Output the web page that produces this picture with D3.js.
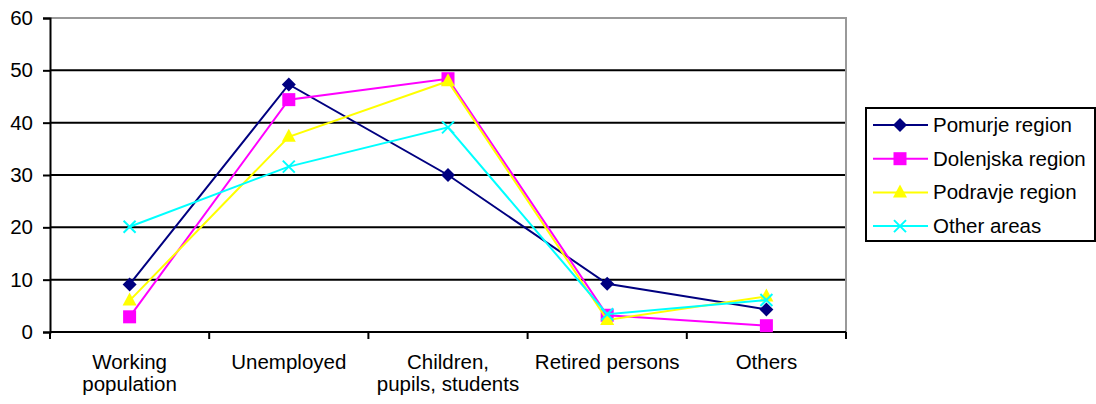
<!DOCTYPE html>
<meta charset="utf-8">
<script src="https://d3js.org/d3.v7.min.js"></script>
<style>
  body { margin: 0; background: #fff; }
  text { font-family: Arial, "Liberation Sans", sans-serif; }
</style>
<div id="chart"></div>
<script>
// categories and values
var categories = [["Working", "population"], ["Unemployed"], ["Children,", "pupils, students"], ["Retired persons"], ["Others"]];
var seriesNames = ["Pomurje region", "Dolenjska region", "Podravje region", "Other areas"];
var pomurje   = [9.1, 47.3, 30.0, 9.2, 4.3];
var dolenjska = [2.9, 44.4, 48.4, 3.2, 1.2];
var podravje  = [6.0, 37.3, 47.9, 2.3, 6.8];
var otherAreas = [20.1, 31.6, 39.1, 3.4, 6.1];
var yTicks = [0, 10, 20, 30, 40, 50, 60];

var colors = ["#000080", "#ff00ff", "#ffff00", "#00ffff"];
var symbols = ["diamond", "square", "triangle", "cross"];
var allSeries = [pomurje, dolenjska, podravje, otherAreas];
var fontSize = "20.5px";

var W = 1096, H = 404;
var margin = {top: 18, left: 50};
var width = 846 - margin.left, height = 332 - margin.top;

var svg = d3.select("#chart").append("svg")
    .attr("width", W).attr("height", H);
var g = svg.append("g")
    .attr("transform", "translate(" + margin.left + "," + margin.top + ")");

var x = d3.scaleBand().domain(d3.range(categories.length)).range([0, width]);
var y = d3.scaleLinear().domain([0, 60]).range([height, 0]);

// gridlines
g.selectAll(".grid").data(yTicks.filter(d => d > 0 && d < 60)).enter()
  .append("line")
    .attr("x1", 0).attr("x2", width)
    .attr("y1", d => y(d)).attr("y2", d => y(d))
    .attr("stroke", "#000").attr("stroke-width", 2);

// plot border top/right (grey)
g.append("path")
  .attr("d", "M0," + y(60) + "H" + width + "V" + height)
  .attr("fill", "none").attr("stroke", "#999").attr("stroke-width", 2);

// y axis
var yAxis = g.append("g")
  .call(d3.axisLeft(y).tickValues(yTicks).tickSize(7).tickPadding(10));
yAxis.select(".domain").attr("stroke", "#000").attr("stroke-width", 2);
yAxis.selectAll(".tick line").attr("stroke", "#000").attr("stroke-width", 2);
yAxis.selectAll(".tick text").style("font-size", fontSize).attr("fill", "#000")
  .attr("font-family", "Arial, 'Liberation Sans', sans-serif");

// x axis
g.append("line").attr("x1", 0).attr("x2", width).attr("y1", height).attr("y2", height)
  .attr("stroke", "#000").attr("stroke-width", 2);
g.selectAll(".xtick").data(d3.range(categories.length + 1)).enter()
  .append("line")
    .attr("x1", d => d === categories.length ? width : x(d))
    .attr("x2", d => d === categories.length ? width : x(d))
    .attr("y1", height).attr("y2", height + 7)
    .attr("stroke", "#000").attr("stroke-width", 2);

var xl = g.selectAll(".xlab").data(categories).enter()
  .append("text")
    .attr("text-anchor", "middle")
    .style("font-size", fontSize)
    .attr("fill", "#000");
xl.each(function(lines, i) {
  var t = d3.select(this);
  lines.forEach(function(s, j) {
    t.append("tspan")
      .attr("x", x(i) + x.bandwidth() / 2)
      .attr("y", height + 37 + j * 22)
      .text(s);
  });
});

// series
var line = d3.line()
  .x((d, i) => x(i) + x.bandwidth() / 2)
  .y(d => y(d));

function drawMarker(sel, k, cx, cy) {
  var c = colors[k];
  if (symbols[k] === "diamond") {
    sel.append("path")
      .attr("d", "M" + cx + "," + (cy - 7) + "L" + (cx + 7) + "," + cy + "L" + cx + "," + (cy + 7) + "L" + (cx - 7) + "," + cy + "Z")
      .attr("fill", c);
  } else if (symbols[k] === "square") {
    sel.append("rect").attr("x", cx - 6.5).attr("y", cy - 6.5)
      .attr("width", 13).attr("height", 13).attr("fill", c);
  } else if (symbols[k] === "triangle") {
    sel.append("path")
      .attr("d", "M" + cx + "," + (cy - 8) + "L" + (cx + 7) + "," + (cy + 5) + "L" + (cx - 7) + "," + (cy + 5) + "Z")
      .attr("fill", c);
  } else {
    sel.append("path")
      .attr("d", "M" + (cx - 6) + "," + (cy - 6) + "L" + (cx + 6) + "," + (cy + 6) + "M" + (cx + 6) + "," + (cy - 6) + "L" + (cx - 6) + "," + (cy + 6))
      .attr("stroke", c).attr("stroke-width", 2).attr("fill", "none");
  }
}

allSeries.forEach(function(vals, k) {
  g.append("path").datum(vals)
    .attr("d", line)
    .attr("fill", "none")
    .attr("stroke", colors[k])
    .attr("stroke-width", 2);
  var mg = g.append("g");
  vals.forEach(function(v, i) {
    drawMarker(mg, k, x(i) + x.bandwidth() / 2, y(v));
  });
});

// legend
var lg = svg.append("g");
lg.append("rect").attr("x", 866).attr("y", 108).attr("width", 229).attr("height", 133)
  .attr("fill", "#fff").attr("stroke", "#000").attr("stroke-width", 2);
seriesNames.forEach(function(name, k) {
  var ly = 125 + k * 33.7;
  lg.append("line").attr("x1", 873).attr("x2", 928).attr("y1", ly).attr("y2", ly)
    .attr("stroke", colors[k]).attr("stroke-width", 2);
  drawMarker(lg, k, 900, ly);
  lg.append("text").attr("x", 933).attr("y", ly + 7)
    .style("font-size", fontSize).attr("fill", "#000").text(name);
});
</script>
